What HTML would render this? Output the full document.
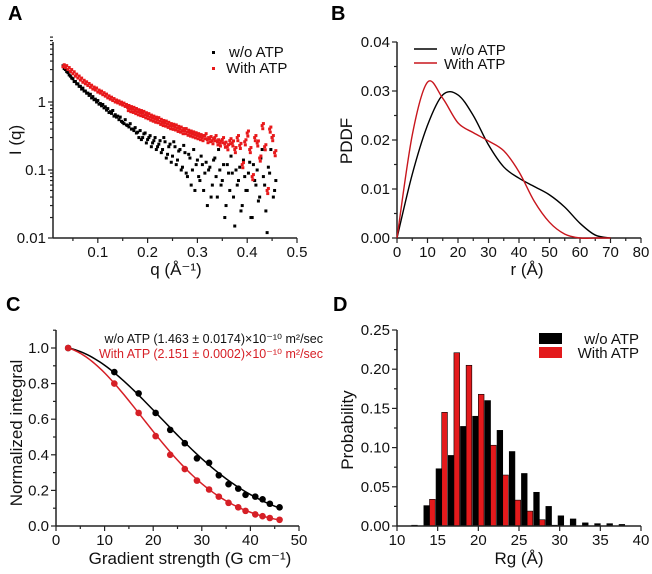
<!DOCTYPE html>
<html><head><meta charset="utf-8"><style>
body{margin:0;background:#fff}
svg{display:block;font-family:"Liberation Sans",Arial,sans-serif}
</style></head><body>
<svg id="fig" width="652" height="574" viewBox="0 0 652 574">
<g font-weight="bold" font-size="20">
<text x="8" y="20">A</text>
<text x="331" y="20">B</text>
<text x="6" y="311">C</text>
<text x="333" y="311">D</text>
</g>
</svg>
<script>
// ---------- Panel A data ----------
const aBlack=[3.4,3.0,2.7,2.4,2.2,2.0,1.85,1.7,1.6,1.45,1.35,1.3,1.2,1.1,1.05,0.95,0.92,0.85,0.8,0.72,0.75,0.65,0.62,0.6,0.5,0.55,0.45,0.48,0.4,0.42,0.36,0.38,0.3,0.35,0.28,0.32,0.25,0.3,0.22,0.27,0.2,0.26,0.17,0.24,0.16,0.22,0.14,0.2,0.11,0.18,0.08,0.15,0.1,0.05,0.14,0.07,0.12,0.09,0.03,0.11,0.06,0.15,0.04,0.1,0.07,0.02,0.12,0.05,0.09,0.015,0.06,0.11,0.03,0.08,0.05,0.13,0.02,0.07,0.1,0.04,0.2,0.06,0.012,0.09,0.3,0.05];
const aBlack2=[3.1,2.8,2.5,2.25,2.0,1.85,1.7,1.55,1.45,1.35,1.25,1.15,1.08,1.0,0.93,0.88,0.82,0.76,0.7,0.68,0.62,0.6,0.55,0.52,0.48,0.46,0.43,0.4,0.38,0.35,0.3,0.28,0.34,0.25,0.3,0.22,0.27,0.2,0.24,0.18,0.3,0.15,0.22,0.13,0.26,0.12,0.19,0.1,0.23,0.09,0.17,0.06,0.2,0.12,0.08,0.16,0.05,0.13,0.1,0.04,0.14,0.08,0.2,0.06,0.12,0.03,0.09,0.16,0.04,0.1,0.07,0.025,0.14,0.05,0.09,0.02,0.12,0.06,0.035,0.15,0.08,0.025,0.11,0.2,0.04,0.07];
const aRed=[3.3,3.2,3.0,2.8,2.6,2.4,2.25,2.1,1.95,1.85,1.75,1.65,1.55,1.5,1.4,1.35,1.28,1.22,1.15,1.1,1.05,1.0,0.97,0.93,0.9,0.86,0.83,0.8,0.78,0.75,0.72,0.7,0.68,0.65,0.63,0.6,0.58,0.56,0.55,0.52,0.5,0.49,0.47,0.45,0.44,0.43,0.41,0.4,0.38,0.38,0.36,0.35,0.34,0.33,0.32,0.31,0.3,0.32,0.28,0.29,0.27,0.3,0.26,0.25,0.28,0.24,0.22,0.27,0.25,0.2,0.3,0.23,0.12,0.26,0.35,0.2,0.08,0.3,0.25,0.15,0.45,0.22,0.05,0.4,0.3,0.18];
const aQStart=0.03, aQStep=0.005;
const aXTicks=[0.1,0.2,0.3,0.4,0.5];
const aYTicks=[0.01,0.1,1];
// ---------- Panel B data ----------
const bR=[0,5,10,15,20,25,30,35,40,45,50,55,60,65,70];
const bBlack=[0,0.013,0.023,0.0292,0.0292,0.025,0.019,0.0145,0.0122,0.0105,0.0088,0.0063,0.003,0.0006,0];
const bRed=[0,0.021,0.0318,0.0285,0.0235,0.0215,0.0198,0.0178,0.0135,0.0075,0.0032,0.0008,0,0,0];
const bXTicks=[0,10,20,30,40,50,60,70,80];
const bYTicks=[0,0.01,0.02,0.03,0.04];
// ---------- Panel C data ----------
const cG=[2.5,12,17,20.5,23.5,26.5,29,31.5,33.5,35.5,37.5,39,41,42.5,44,46];
const cBlack=[1,0.865,0.745,0.635,0.54,0.465,0.38,0.355,0.285,0.235,0.21,0.175,0.165,0.15,0.125,0.105];
const cRed=[1,0.8,0.635,0.505,0.4,0.32,0.255,0.205,0.165,0.13,0.105,0.085,0.065,0.055,0.045,0.035];
const cXTicks=[0,10,20,30,40,50];
const cYTicks=[0,0.2,0.4,0.6,0.8,1.0];
// ---------- Panel D data ----------
const dCenters=[12.5,14,15.5,17,18.5,20,21.5,23,24.5,26,27.5,29,30.5,32,33.5,35,36.5,38];
const dBlack=[0.001,0.026,0.073,0.09,0.127,0.14,0.16,0.122,0.095,0.067,0.043,0.025,0.013,0.009,0.004,0.003,0.003,0.002];
const dRed=[0,0.034,0.145,0.221,0.205,0.168,0.103,0.065,0.033,0.019,0.008,0.001,0,0,0,0,0,0];
const dXTicks=[10,15,20,25,30,35,40];
const dYTicks=[0,0.05,0.10,0.15,0.20,0.25];

const NS="http://www.w3.org/2000/svg";
const svg=document.getElementById('fig');
function mk(tag,attrs,parent){const e=document.createElementNS(NS,tag);for(const k in attrs)e.setAttribute(k,attrs[k]);(parent||svg).appendChild(e);return e;}
function txt(s,x,y,size,anchor,parent,fill){const t=mk('text',{x:x,y:y,'font-size':size,'text-anchor':anchor||'middle',fill:fill||'#111'},parent);t.textContent=s;return t;}
function lin(a,b,p0,p1){return v=>p0+(v-a)/(b-a)*(p1-p0);}
function catmull(pts){let d='M'+pts[0][0]+','+pts[0][1];for(let i=0;i<pts.length-1;i++){const p0=pts[Math.max(0,i-1)],p1=pts[i],p2=pts[i+1],p3=pts[Math.min(pts.length-1,i+2)];const c1=[p1[0]+(p2[0]-p0[0])/6,p1[1]+(p2[1]-p0[1])/6],c2=[p2[0]-(p3[0]-p1[0])/6,p2[1]-(p3[1]-p1[1])/6];d+=' C'+c1[0]+','+c1[1]+' '+c2[0]+','+c2[1]+' '+p2[0]+','+p2[1];}return d;}
function axes(g,x0,x1,y0,y1){mk('line',{x1:x0,y1:y1,x2:x0,y2:y0,stroke:'#222','stroke-width':1.5},g);mk('line',{x1:x0,y1:y0,x2:x1,y2:y0,stroke:'#222','stroke-width':1.5},g);}
function tick(g,x1,y1,x2,y2){mk('line',{x1:x1,y1:y1,x2:x2,y2:y2,stroke:'#222','stroke-width':1.2},g);}

// ===== Panel A =====
(function(){
const g=mk('g',{});


const X=lin(0.01,0.5,53,297);
const Y=v=>238-(Math.log10(v)+2)*68;
axes(g,53,297,238,42);
aXTicks.forEach(v=>{tick(g,X(v),238,X(v),243);const t=txt(String(v),X(v),257,15,'middle',g);});
[0.05,0.15,0.25,0.35,0.45].forEach(v=>tick(g,X(v),238,X(v),241));
aYTicks.forEach(v=>{tick(g,48,Y(v),53,Y(v));const t=txt(String(v),46,Y(v)+5,15,'end',g);});
for(let e=-2;e<1;e++)for(let m=2;m<10;m++){tick(g,50,Y(m*Math.pow(10,e)),53,Y(m*Math.pow(10,e)));}
const sb=mk('g',{fill:'#000'},g);


function dot(par,q,v,nm){if(v<0.01)return;const r=mk('rect',{x:X(q)-1.5,y:Y(v)-1.5,width:3,height:3},par);}
aBlack.forEach((v,i)=>dot(sb,aQStart+i*aQStep,v,'point-without-atp'));
aBlack2.forEach((v,i)=>dot(sb,aQStart+(i+0.5)*aQStep,v,'point-without-atp'));
const sr=mk('g',{fill:'#e8191b'},g);


aRed.forEach((v,i)=>{const q=aQStart+i*aQStep;
 dot(sr,q,v,'point-with-atp');
 dot(sr,q+aQStep/2,v*1.07,'point-with-atp');
 if(i>25)dot(sr,q+aQStep/4,v*0.9,'point-with-atp');});
const lg=mk('g',{},g);


mk('rect',{x:212,y:51,width:3,height:3,fill:'#000'},lg);
txt('w/o ATP',229,57,15,'start',lg);
mk('rect',{x:212,y:67,width:3,height:3,fill:'#e8191b'},lg);
txt('With ATP',226,73,15,'start',lg);
const xt=txt('q (Å\u207B\u00B9)',176,275,17,'middle',g);

const yt=txt('I (q)',0,0,17,'middle',g);yt.setAttribute('transform','translate(21,140) rotate(-90)');

})();

// ===== Panel B =====
(function(){
const g=mk('g',{});


const X=lin(0,80,397,641),Y=lin(0,0.04,238,42);
axes(g,397,641,238,42);
bXTicks.forEach(v=>{tick(g,X(v),238,X(v),243);const t=txt(String(v),X(v),257,15,'middle',g);});
for(let v=5;v<80;v+=10)tick(g,X(v),238,X(v),241);
bYTicks.forEach(v=>{tick(g,392,Y(v),397,Y(v));const t=txt(v.toFixed(2),390,Y(v)+5,15,'end',g);});
for(let v=0.005;v<0.04;v+=0.01)tick(g,394,Y(v),397,Y(v));
const pb=mk('path',{d:catmull(bR.map((r,i)=>[X(r),Y(bBlack[i])])),fill:'none',stroke:'#000','stroke-width':1.4},g);

const pr=mk('path',{d:catmull(bR.map((r,i)=>[X(r),Y(bRed[i])])),fill:'none',stroke:'#c8161d','stroke-width':1.4},g);

const lg=mk('g',{},g);


mk('line',{x1:414,y1:49,x2:437,y2:49,stroke:'#000','stroke-width':1.4},lg);
txt('w/o ATP',451,55,15,'start',lg);
mk('line',{x1:414,y1:63,x2:437,y2:63,stroke:'#c8161d','stroke-width':1.4},lg);
txt('With ATP',444,69,15,'start',lg);
const xt=txt('r (Å)',527,275,17,'middle',g);

const yt=txt('PDDF',0,0,17,'middle',g);yt.setAttribute('transform','translate(352,141) rotate(-90)');

})();

// ===== Panel C =====
(function(){
const g=mk('g',{});


const X=lin(0,50,56,299),Y=lin(0,1,526,348);
axes(g,56,299,526,330);
cXTicks.forEach(v=>{tick(g,X(v),526,X(v),531);const t=txt(String(v),X(v),545,15,'middle',g);});
for(let v=5;v<50;v+=10)tick(g,X(v),526,X(v),529);
cYTicks.forEach(v=>{tick(g,51,Y(v),56,Y(v));const t=txt(v.toFixed(1),49,Y(v)+5,15,'end',g);});
for(let v=0.1;v<1.1;v+=0.2)tick(g,53,Y(v),56,Y(v));
function fitA(ys){let n=0,d=0;cG.forEach((x,i)=>{n+=x*x*(-Math.log(ys[i]));d+=x*x*x*x;});return n/d;}
[[cBlack,'#000','without-atp'],[cRed,'#d61f26','with-atp']].forEach(([ys,col,nm])=>{
 const a=fitA(ys);const pts=[];for(let x=cG[0];x<=cG[cG.length-1]+0.01;x+=0.5)pts.push([X(x),Y(Math.exp(-a*(x*x-cG[0]*cG[0])))]);
 const p=mk('path',{d:'M'+pts.map(p=>p.join(',')).join(' L'),fill:'none',stroke:col,'stroke-width':1.5},g);
 
 ys.forEach((v,i)=>{const c=mk('circle',{cx:X(cG[i]),cy:Y(v),r:3.3,fill:col},g);});
});
const l1=txt('w/o ATP (1.463 ± 0.0174)×10\u207B\u00B9\u2070 m\u00B2/sec',323,343,12.5,'end',g,'#111');

const l2=txt('With ATP (2.151 ± 0.0002)×10\u207B\u00B9\u2070 m\u00B2/sec',323,358,12.5,'end',g,'#d61f26');

const xt=txt('Gradient strength (G cm\u207B\u00B9)',190,564,17,'middle',g);

const yt=txt('Normalized integral',0,0,17,'middle',g);yt.setAttribute('transform','translate(22,433) rotate(-90)');

})();

// ===== Panel D =====
(function(){
const g=mk('g',{});


const X=lin(10,40,397,641),Y=lin(0,0.25,526,330);
const bw=0.7;
dCenters.forEach((c,i)=>{
 const b=mk('rect',{x:X(c-bw),y:Y(dBlack[i]),width:X(c)-X(c-bw),height:526-Y(dBlack[i]),fill:'#000',stroke:'#000','stroke-width':0.6},g);
 
 if(dRed[i]>0){const r=mk('rect',{x:X(c),y:Y(dRed[i]),width:X(c+bw)-X(c),height:526-Y(dRed[i]),fill:'#e31a1c',stroke:'#000','stroke-width':0.6},g);
 }
});
axes(g,397,641,526,330);
dXTicks.forEach(v=>{tick(g,X(v),526,X(v),531);const t=txt(String(v),X(v),545,15,'middle',g);});
dYTicks.forEach(v=>{tick(g,392,Y(v),397,Y(v));const t=txt(v.toFixed(2),390,Y(v)+5,15,'end',g);});
for(let v=0.025;v<0.25;v+=0.05)tick(g,394,Y(v),397,Y(v));
const lg=mk('g',{},g);


mk('rect',{x:539,y:333,width:23,height:11,fill:'#000'},lg);
txt('w/o ATP',639,344,15,'end',lg);
mk('rect',{x:539,y:347,width:23,height:11,fill:'#e31a1c'},lg);
txt('With ATP',639,358,15,'end',lg);
const xt=txt('Rg (Å)',519,564,17,'middle',g);

const yt=txt('Probability',0,0,17,'middle',g);yt.setAttribute('transform','translate(353,430) rotate(-90)');

})();
</script>
</body></html>
